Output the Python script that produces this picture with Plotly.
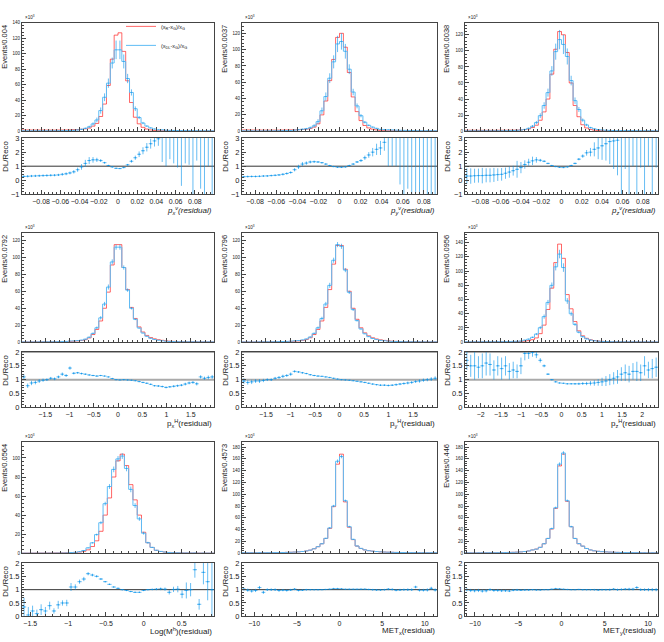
import plotly.graph_objects as go

W, H = 664, 642
RED = "rgba(255,0,0,0.6)"
BLUE_LINE = "rgb(95,188,245)"
BLUE = "rgba(0,145,235,0.6)"
FONT = "Liberation Sans, Arial, sans-serif"

# ---------------- data (main panels in units of 10^3 events) ----------------
# panel 1 : p_x^nu
red1 = [1.6,1.6,1.5,1.5,1.5,1.5,1.4,1.4,1.4,1.5,
        1.5,1.6,1.7,1.9,2.1,2.5,3.1,4.0,6.5,10,
        19,35,59,93,124,127,103,65,37,18,
        9.5,5.0,2.8,1.6,1.0,0.6,0.45,0.35,0.3,0.25,
        0.2,0.2,0.18,0.16,0.15,0.14,0.13,0.12,0.12,0.11]
blue1 = [0.43,0.45,0.45,0.47,0.48,0.5,0.48,0.49,0.5,0.57,
         0.63,0.74,0.88,1.14,1.6,2.4,3.7,5.6,9.4,14.5,
         26.6,43.8,62,88,105,105,90,68,50,29,
         17.6,10.5,6.6,4.2,2.8,1.8,1.7,1.3,1.1,1.0,
         0.8,0.75,0.7,0.6,0.6,0.55,0.5,0.45,0.45,0.4]
berr1 = [0.2,0.2,0.2,0.2,0.2,0.2,0.2,0.2,0.2,0.2,
         0.3,0.3,0.4,0.5,0.6,0.8,1.0,1.5,2.0,3.0,
         4.0,5.0,6.0,7.0,12,12,9.0,6.0,4.0,3.0,
         2.0,1.5,1.0,0.8,0.6,0.5,0.4,0.4,0.3,0.3,
         0.3,0.3,0.3,0.3,0.2,0.2,0.2,0.2,0.2,0.2]
ratio1 = [0.27,0.28,0.30,0.31,0.32,0.33,0.34,0.35,0.36,0.38,
          0.42,0.46,0.52,0.60,0.75,0.95,1.2,1.4,1.45,1.45,
          1.4,1.25,1.05,0.95,0.85,0.83,0.9,1.1,1.35,1.6,
          1.85,2.1,2.35,2.6,2.8,2.95,3.8,3.8,3.8,3.8,
          3.8,3.8,3.8,3.8,3.8,3.8,3.8,3.8,3.8,3.8]
rerr1 = [0.08,0.08,0.08,0.08,0.08,0.08,0.08,0.08,0.08,0.08,
         0.1,0.1,0.1,0.12,0.15,0.2,0.25,0.25,0.2,0.15,
         0.1,0.06,0.04,0.03,0.03,0.03,0.04,0.06,0.1,0.15,
         0.2,0.25,0.3,0.35,0.4,0.5,2.5,2.8,2.3,2.6,
         2.9,4.2,2.6,2.7,5.0,2.4,4.4,5.0,2.8,5.0]

# panel 2 : p_y^nu
red2 = [1.5,1.5,1.4,1.4,1.4,1.3,1.3,1.3,1.3,1.3,
        1.4,1.5,1.6,1.7,1.9,2.1,2.5,3.2,5.0,9.0,
        20,37,62,88,115,120,103,72,42,24,
        13,7.0,4.0,2.5,1.6,1.0,0.7,0.5,0.4,0.35,
        0.3,0.28,0.25,0.23,0.2,0.2,0.18,0.17,0.16,0.15]
blue2 = [0.38,0.39,0.38,0.38,0.39,0.39,0.4,0.43,0.46,0.49,
         0.59,0.72,0.88,1.3,1.8,2.4,3.0,4.2,6.6,11.7,
         25,42.5,65,85,107,110,98,76,48,31,
         19,11,7.2,5.0,3.5,2.3,1.9,1.7,1.5,1.3,
         1.1,1.0,0.9,0.8,0.75,0.7,0.65,0.6,0.55,0.5]
berr2 = [0.2,0.2,0.2,0.2,0.2,0.2,0.2,0.2,0.2,0.2,
         0.3,0.3,0.4,0.5,0.6,0.8,1.0,1.5,2.0,3.0,
         4.0,5.0,6.0,8.0,10,10,9.0,6.0,4.0,3.0,
         2.0,1.5,1.0,0.8,0.6,0.5,0.4,0.4,0.3,0.3,
         0.3,0.3,0.3,0.3,0.2,0.2,0.2,0.2,0.2,0.2]
ratio2 = [0.25,0.26,0.27,0.27,0.28,0.30,0.31,0.33,0.35,0.38,
          0.42,0.48,0.55,0.75,0.95,1.15,1.22,1.30,1.32,1.30,
          1.25,1.15,1.05,0.97,0.93,0.92,0.95,1.05,1.15,1.3,
          1.4,1.6,1.8,2.0,2.2,2.3,2.7,3.8,3.8,3.8,
          3.8,3.8,3.8,3.8,3.8,3.8,3.8,3.8,3.8,3.8]
rerr2 = [0.06,0.06,0.06,0.06,0.06,0.06,0.06,0.06,0.06,0.06,
         0.08,0.08,0.08,0.12,0.15,0.15,0.12,0.1,0.08,0.06,
         0.05,0.04,0.03,0.03,0.03,0.03,0.03,0.04,0.05,0.07,
         0.1,0.15,0.2,0.3,0.4,0.5,0.6,2.8,2.8,2.8,
         4.1,5.0,4.4,5.0,4.7,5.0,5.0,5.0,5.0,5.0]

# panel 3 : p_z^nu
red3 = [1.2,1.2,1.2,1.1,1.1,1.1,1.1,1.1,1.2,1.2,
        1.2,1.3,1.3,1.4,1.6,2.0,2.8,4.5,7.4,13.6,
        24,40,71,102,124,120,98,60,32,18,
        8.0,4.0,2.2,1.3,0.9,0.6,0.45,0.35,0.3,0.25,
        0.22,0.2,0.18,0.17,0.16,0.15,0.14,0.13,0.12,0.12]
blue3 = [0.36,0.36,0.38,0.36,0.36,0.39,0.39,0.42,0.48,0.5,
         0.6,0.75,0.88,1.1,1.45,2.2,3.6,6.2,10.7,19.3,
         32,48,75,99,114,108,93,63,38,27,
         13.8,7.8,4.4,2.9,2.1,1.5,1.2,1.0,0.85,0.7,
         0.8,0.75,0.7,0.65,0.6,0.55,0.5,0.5,0.45,0.45]
berr3 = [0.2,0.2,0.2,0.2,0.2,0.2,0.2,0.2,0.2,0.2,
         0.3,0.3,0.4,0.5,0.6,0.8,1.0,1.5,2.0,3.0,
         4.0,5.0,6.0,10,12,12,10,6.0,4.0,3.0,
         2.0,1.5,1.0,0.8,0.6,0.5,0.4,0.4,0.3,0.3,
         0.3,0.3,0.3,0.3,0.2,0.2,0.2,0.2,0.2,0.2]
ratio3 = [0.30,0.30,0.32,0.33,0.33,0.35,0.35,0.38,0.40,0.42,
          0.5,0.58,0.68,0.78,0.9,1.12,1.28,1.38,1.45,1.42,
          1.35,1.2,1.05,0.97,0.92,0.9,0.95,1.05,1.2,1.5,
          1.72,1.95,2.0,2.2,2.3,2.45,2.6,2.75,2.8,2.85,
          3.8,3.8,3.8,3.8,3.8,3.8,3.8,3.8,3.8,3.8]
rerr3 = [0.55,0.55,0.5,0.5,0.55,0.5,0.5,0.5,0.45,0.45,
         0.4,0.4,0.35,0.6,0.4,0.3,0.25,0.3,0.2,0.1,
         0.06,0.04,0.03,0.03,0.02,0.02,0.03,0.04,0.05,0.08,
         0.12,0.2,0.3,0.5,0.8,1.0,1.2,1.6,2.0,2.5,
         4.8,3.0,4.8,2.8,4.8,2.9,4.8,2.8,4.8,2.9]

# panel 4 : p_x^H
red4 = [0.3,0.3,0.35,0.35,0.4,0.4,0.45,0.5,0.55,0.6,
        0.7,0.8,1.0,1.2,1.5,2.0,3.0,5.0,9.0,15,
        25,40,59,91,115,115,88,62,41,28,
        18,12,8.0,5.5,4.0,3.0,2.2,1.6,1.2,1.0,
        0.8,0.7,0.6,0.55,0.5,0.45,0.4,0.35,0.35,0.3]
blue4 = [0.33,0.23,0.31,0.32,0.38,0.39,0.45,0.53,0.57,0.66,
         0.84,0.92,1.42,1.48,1.88,2.44,3.6,5.85,10.4,17,
         28.7,45,65,94.6,112,112,88,61.4,40,27,
         16.7,10.8,7.0,4.6,3.1,2.3,1.65,1.15,0.9,0.76,
         0.62,0.56,0.5,0.48,0.45,0.38,0.44,0.37,0.38,0.33]
berr4 = [0.1,0.1,0.1,0.1,0.1,0.1,0.1,0.1,0.1,0.1,
         0.1,0.1,0.1,0.1,0.2,0.3,0.5,0.8,1.0,1.5,
         2.0,2.5,3.0,3.0,3.0,3.0,2.5,2.0,1.5,1.0,
         0.8,0.5,0.4,0.3,0.2,0.2,0.1,0.1,0.1,0.1,
         0.1,0.1,0.1,0.1,0.1,0.1,0.1,0.1,0.1,0.1]
ratio4 = [1.1,0.78,0.88,0.9,0.95,0.98,1.0,1.05,1.03,1.1,
          1.2,1.15,1.42,1.23,1.25,1.22,1.2,1.17,1.15,1.13,
          1.15,1.13,1.1,1.04,1.0,0.99,1.0,0.99,0.98,0.96,
          0.93,0.9,0.87,0.83,0.78,0.77,0.75,0.72,0.74,0.76,
          0.78,0.8,0.84,0.88,0.9,0.85,1.1,1.05,1.08,1.1]
rerr4 = [0.1,0.08,0.08,0.07,0.07,0.06,0.05,0.05,0.05,0.05,
         0.06,0.05,0.06,0.04,0.03,0.03,0.02,0.02,0.02,0.02,
         0.01,0.01,0.01,0.01,0.01,0.01,0.01,0.01,0.01,0.01,
         0.02,0.02,0.02,0.02,0.02,0.03,0.03,0.03,0.03,0.04,
         0.04,0.04,0.05,0.05,0.05,0.06,0.06,0.06,0.07,0.07]

# panel 5 : p_y^H
red5 = [0.3,0.3,0.3,0.35,0.4,0.4,0.45,0.5,0.55,0.6,
        0.7,0.8,1.0,1.2,1.5,2.1,3.1,5.2,9.0,15,
        25,41,62,92,114,114,86,60,40,27,
        17,11,7.5,5.2,3.8,2.8,2.1,1.6,1.2,1.0,
        0.8,0.7,0.6,0.55,0.5,0.45,0.4,0.35,0.35,0.3]
blue5 = [0.29,0.27,0.28,0.33,0.38,0.39,0.45,0.5,0.58,0.65,
         0.78,0.92,1.2,1.56,1.92,2.6,3.8,6.1,10.4,17,
         28,45,67,96.6,115,113,85,58.8,38.4,25.4,
         15.6,9.9,6.5,4.4,3.1,2.2,1.7,1.26,0.96,0.82,
         0.67,0.6,0.53,0.5,0.47,0.43,0.39,0.35,0.36,0.32]
berr5 = [0.1,0.1,0.1,0.1,0.1,0.1,0.1,0.1,0.1,0.1,
         0.1,0.1,0.1,0.1,0.2,0.3,0.5,0.8,1.0,1.5,
         2.0,2.5,3.0,3.0,3.0,3.0,2.5,2.0,1.5,1.0,
         0.8,0.5,0.4,0.3,0.2,0.2,0.1,0.1,0.1,0.1,
         0.1,0.1,0.1,0.1,0.1,0.1,0.1,0.1,0.1,0.1]
ratio5 = [0.95,0.9,0.92,0.95,0.95,0.97,1.0,1.0,1.05,1.08,
          1.12,1.15,1.2,1.3,1.28,1.25,1.22,1.18,1.15,1.13,
          1.12,1.1,1.08,1.05,1.02,1.0,0.99,0.98,0.96,0.94,
          0.92,0.9,0.87,0.84,0.82,0.8,0.8,0.79,0.8,0.82,
          0.84,0.86,0.88,0.9,0.93,0.95,0.98,1.0,1.02,1.05]
rerr5 = [0.1,0.08,0.08,0.07,0.07,0.06,0.05,0.05,0.05,0.05,
         0.06,0.05,0.06,0.04,0.03,0.03,0.02,0.02,0.02,0.02,
         0.01,0.01,0.01,0.01,0.01,0.01,0.01,0.01,0.01,0.01,
         0.02,0.02,0.02,0.02,0.02,0.03,0.03,0.03,0.03,0.04,
         0.04,0.04,0.05,0.05,0.05,0.06,0.06,0.06,0.07,0.07]

# panel 6 : p_z^H
red6 = [0.3,0.3,0.3,0.3,0.35,0.35,0.4,0.4,0.45,0.5,
        0.6,0.7,0.85,1.0,1.1,1.5,2.2,3.5,6.0,12,
        24,46,76,112,138,118,67,47,29,16,
        9.0,5.5,3.5,2.3,1.6,1.2,0.9,0.75,0.6,0.5,
        0.45,0.4,0.35,0.33,0.3,0.28,0.26,0.25,0.24,0.22]
blue6 = [0.51,0.45,0.45,0.44,0.53,0.56,0.62,0.54,0.68,0.7,
         0.9,0.91,1.15,1.3,1.65,2.9,4.3,6.9,11.4,20.4,
         36,56,80,106,124,105,58,40,25,14,
         7.7,4.7,3.0,2.0,1.45,1.1,0.86,0.75,0.63,0.55,
         0.54,0.5,0.42,0.43,0.39,0.35,0.39,0.34,0.34,0.32]
berr6 = [0.2,0.2,0.2,0.2,0.2,0.2,0.2,0.2,0.2,0.2,
         0.2,0.2,0.3,0.3,0.4,0.5,0.8,1.0,1.5,2.0,
         3.0,3.5,4.0,5.0,6.0,6.0,4.0,3.0,2.0,1.5,
         1.0,0.8,0.6,0.5,0.4,0.3,0.2,0.2,0.2,0.2,
         0.2,0.2,0.2,0.2,0.2,0.2,0.2,0.2,0.2,0.2]
ratio6 = [1.7,1.5,1.5,1.45,1.5,1.6,1.55,1.35,1.5,1.4,
          1.5,1.3,1.35,1.3,1.5,1.95,1.95,1.98,1.9,1.7,
          1.5,1.2,1.0,0.92,0.88,0.87,0.85,0.85,0.85,0.85,
          0.86,0.86,0.87,0.88,0.9,0.92,0.95,1.0,1.05,1.1,
          1.2,1.25,1.2,1.3,1.3,1.25,1.5,1.35,1.4,1.45]
rerr6 = [0.35,0.4,0.5,0.4,0.45,0.45,0.4,0.35,0.35,0.4,
         0.35,0.3,0.3,0.25,0.3,0.25,0.2,0.15,0.12,0.08,
         0.05,0.03,0.02,0.02,0.01,0.01,0.02,0.02,0.03,0.04,
         0.05,0.06,0.08,0.1,0.12,0.15,0.18,0.2,0.22,0.25,
         0.25,0.3,0.3,0.3,0.35,0.3,0.35,0.3,0.35,0.35]

# panel 7 : Log(M^h)  (45 bins)
red7 = [0.1,0.1,0.1,0.12,0.15,0.18,0.2,0.25,0.3,0.35,
        0.45,0.6,0.8,1.2,2.0,3.5,7.0,13,23,40,
        58,80,97,104,92,72,56,40,22,11,
        6.0,3.0,1.8,1.2,0.8,0.55,0.4,0.3,0.25,0.2,
        0.15,0.12,0.1,0.08,0.06]
blue7 = [0.035,0.005,0.02,0.012,0.04,0.04,0.08,0.05,0.13,0.18,
         0.23,0.66,0.88,1.56,2.8,5.6,10.9,19.5,32,52,
         70,88,99,102,89,67,50,36,21,11,
         6.1,3.1,1.85,1.2,0.7,0.55,0.4,0.25,0.24,0.2,
         0.26,0.05,0.16,0.1,0.06]
berr7 = [0.05,0.05,0.05,0.05,0.05,0.05,0.05,0.05,0.05,0.05,
         0.1,0.1,0.2,0.3,0.4,0.6,0.8,1.0,1.5,2.0,
         2.5,3.0,3.0,3.0,3.0,3.0,2.5,2.0,1.5,1.0,
         0.6,0.4,0.3,0.2,0.1,0.1,0.1,0.05,0.05,0.05,
         0.05,0.05,0.05,0.05,0.05]
ratio7 = [0.35,0.05,0.2,0.1,0.25,0.2,0.4,0.2,0.43,0.5,
          0.5,1.1,1.1,1.3,1.4,1.6,1.55,1.5,1.4,1.3,
          1.2,1.1,1.05,1.0,0.97,0.93,0.9,0.9,0.97,1.0,
          1.01,1.02,1.03,1.02,0.9,1.01,1.02,0.83,0.97,1.0,
          1.75,0.45,1.65,1.3,1.0]
rerr7 = [0.35,0.3,0.2,0.15,0.2,0.15,0.15,0.1,0.15,0.1,
         0.12,0.15,0.1,0.08,0.08,0.06,0.05,0.04,0.03,0.02,
         0.02,0.02,0.02,0.02,0.02,0.02,0.02,0.02,0.02,0.02,
         0.03,0.04,0.05,0.06,0.08,0.1,0.12,0.15,0.3,0.25,
         0.3,0.2,0.45,0.7,1.1]

# panel 8 : MET_x
red8 = [0.8,0.8,0.8,0.8,0.9,0.9,0.9,1.0,1.0,1.1,
        1.2,1.4,1.6,1.9,2.3,2.9,3.8,5.2,7.5,11,
        16,25,42,79,151,168,87,44,23,12,
        8.0,5.5,4.2,3.5,2.8,2.3,2.0,1.7,1.5,1.3,
        1.2,1.1,1.0,1.0,0.9,0.9,0.9,0.8,0.8,0.8]
blue8 = [0.82,0.78,0.76,0.78,0.97,0.81,0.9,1.0,1.0,1.07,
         1.18,1.36,1.58,1.94,2.23,2.84,3.8,5.2,7.5,11,
         16,25.2,42.8,80,156,164,89,45,23.5,12.2,
         8.2,5.6,4.2,3.5,2.8,2.3,2.0,1.73,1.52,1.27,
         1.19,1.1,1.0,1.0,0.99,0.88,0.88,0.79,0.84,0.79]
berr8 = [0.1,0.1,0.1,0.1,0.1,0.1,0.1,0.1,0.1,0.1,
         0.1,0.1,0.1,0.1,0.1,0.2,0.2,0.3,0.4,0.5,
         0.8,1.0,1.5,2.0,3.0,3.0,2.0,1.5,1.0,0.8,
         0.5,0.4,0.3,0.2,0.2,0.1,0.1,0.1,0.1,0.1,
         0.1,0.1,0.1,0.1,0.1,0.1,0.1,0.1,0.1,0.1]
ratio8 = [1.02,0.98,0.95,0.97,1.08,0.9,1.0,1.0,1.0,0.97,
          0.98,0.97,0.99,1.02,0.97,0.98,1.0,1.0,1.0,1.0,
          1.0,1.01,1.02,1.04,1.04,1.03,1.02,1.02,1.02,1.02,
          1.02,1.02,1.01,1.0,0.99,0.99,1.0,1.02,1.01,0.98,
          0.99,1.0,1.0,1.0,1.1,0.98,0.98,0.99,1.05,0.99]
rerr8 = [0.06,0.06,0.06,0.06,0.06,0.06,0.05,0.05,0.05,0.05,
         0.04,0.04,0.04,0.04,0.03,0.03,0.03,0.02,0.02,0.02,
         0.01,0.01,0.01,0.005,0.005,0.005,0.005,0.01,0.01,0.01,
         0.02,0.02,0.02,0.03,0.03,0.03,0.03,0.04,0.04,0.04,
         0.04,0.04,0.05,0.05,0.05,0.05,0.05,0.06,0.06,0.06]

# panel 9 : MET_y
red9 = [0.6,0.6,0.6,0.7,0.7,0.7,0.8,0.8,0.9,1.0,
        1.1,1.3,1.5,1.8,2.2,2.8,3.8,5.5,7.0,10,
        16,25,41,76,148,168,88,45,25,16,
        12,8.0,5.5,4.0,3.2,2.6,2.2,1.9,1.6,1.4,
        1.2,1.1,1.0,0.9,0.85,0.8,0.75,0.7,0.7,0.65]
blue9 = [0.6,0.58,0.58,0.68,0.67,0.67,0.8,0.78,0.87,0.96,
         1.06,1.24,1.47,1.78,2.16,2.77,3.76,5.5,6.9,9.9,
         16,25,41.8,77,151,170,89,45,25,16.2,
         12,8.0,5.5,4.0,3.2,2.6,2.2,1.9,1.63,1.4,
         1.21,1.12,1.02,0.92,0.92,0.8,0.75,0.7,0.7,0.65]
berr9 = [0.1,0.1,0.1,0.1,0.1,0.1,0.1,0.1,0.1,0.1,
         0.1,0.1,0.1,0.1,0.1,0.2,0.2,0.3,0.4,0.5,
         0.8,1.0,1.5,2.0,3.0,3.0,2.0,1.5,1.0,0.8,
         0.5,0.4,0.3,0.2,0.2,0.1,0.1,0.1,0.1,0.1,
         0.1,0.1,0.1,0.1,0.1,0.1,0.1,0.1,0.1,0.1]
ratio9 = [1.0,0.97,0.96,0.97,0.95,0.96,1.0,0.97,0.97,0.96,
          0.96,0.95,0.98,0.99,0.98,0.99,0.99,1.0,0.99,0.99,
          1.0,1.0,1.02,1.04,1.03,1.02,1.01,1.0,1.0,1.01,
          1.0,1.0,1.0,1.0,0.99,1.0,1.0,1.0,1.02,1.0,
          1.01,1.02,1.02,1.02,1.08,1.0,1.0,1.0,1.0,1.0]
rerr9 = [0.06,0.06,0.06,0.06,0.06,0.06,0.05,0.05,0.05,0.05,
         0.04,0.04,0.04,0.04,0.03,0.03,0.03,0.02,0.02,0.02,
         0.01,0.01,0.01,0.005,0.005,0.005,0.005,0.01,0.01,0.01,
         0.02,0.02,0.02,0.03,0.03,0.03,0.03,0.04,0.04,0.04,
         0.04,0.04,0.05,0.05,0.05,0.05,0.05,0.06,0.06,0.06]

# binning (low edge, bin width) and axis labels
bin_lo = [-0.1, -0.0925, -0.095, -1.98, -1.99, -2.39, -1.61, -11.4325, -11.15]
bin_w = [0.004, 0.0037, 0.0038, 0.0792, 0.0796, 0.0956, 0.0564, 0.4573, 0.446]
y_titles = ["Events/0.004", "Events/0.0037", "Events/0.0038",
            "Events/0.0792", "Events/0.0796", "Events/0.0956",
            "Events/0.0564", "Events/0.4573", "Events/0.446"]
x_titles = ["<i>p<sub>x</sub><sup>ν</sup>(residual)</i>",
            "<i>p<sub>y</sub><sup>ν</sup>(residual)</i>",
            "<i>p<sub>z</sub><sup>ν</sup>(residual)</i>",
            "p<sub>x</sub><sup>H</sup>(residual)",
            "p<sub>y</sub><sup>H</sup>(residual)",
            "p<sub>z</sub><sup>H</sup>(residual)",
            "Log(M<sup>h</sup>)(residual)",
            "MET<sub>x</sub>(residual)",
            "MET<sub>y</sub>(residual)"]
legend_names = ["(x<sub>R</sub>-x<sub>G</sub>)/x<sub>G</sub>",
                "(x<sub>DL</sub>-x<sub>G</sub>)/x<sub>G</sub>"]
y_max = [140, 133, 135, 129, 129, 154, 117, 189, 189]
x_dtick = [0.02, 0.02, 0.02, 0.5, 0.5, 0.5, 0.5, 5, 5]
ratio_range = [[-1, 3]] * 3 + [[0, 2]] * 6
ratio_dtick = [1] * 3 + [0.5] * 6

reds = [red1, red2, red3, red4, red5, red6, red7, red8, red9]
blues = [blue1, blue2, blue3, blue4, blue5, blue6, blue7, blue8, blue9]
berrs = [berr1, berr2, berr3, berr4, berr5, berr6, berr7, berr8, berr9]
ratios = [ratio1, ratio2, ratio3, ratio4, ratio5, ratio6, ratio7, ratio8, ratio9]
rerrs = [rerr1, rerr2, rerr3, rerr4, rerr5, rerr6, rerr7, rerr8, rerr9]

# ---------------- layout geometry (page pixels) ----------------
cols_px = [(22, 214), (242, 437), (465, 658)]
rows_px = [((19, 129), (136, 193)), ((232, 343), (353, 409)), ((444, 557), (567, 621))]
ytitle_x = [5, 225, 447]
xtitle_y = [209, 425, 636]


def sfx(n):
    return "" if n == 1 else str(n)


def px_x(px):
    return px / W


def px_y(py):
    return 1 - py / H


LINEC = "#444"
base = dict(showgrid=False, zeroline=False, showline=True, linecolor=LINEC,
            linewidth=1, mirror=True, ticks="inside", tickcolor=LINEC,
            tickwidth=1)

fig = go.Figure()
layout = {}
annotations = []
shapes = []

for p in range(9):
    r, c = divmod(p, 3)
    ia, ib = 2 * p + 1, 2 * p + 2
    lo, w = bin_lo[p], bin_w[p]
    red, blue = reds[p], blues[p]
    n = len(red)
    hi = lo + w * n
    edges = [lo + w * k for k in range(n + 1)]
    cent = [lo + w * (k + 0.5) for k in range(n)]
    xa, ya = "x" + sfx(ia), "y" + sfx(ia)
    xb, yb = "x" + sfx(ib), "y" + sfx(ib)

    fig.add_trace(go.Scatter(x=edges, y=red + [red[-1]], mode="lines",
                             line=dict(color=RED, width=1, shape="hv"),
                             xaxis=xa, yaxis=ya, name=legend_names[0],
                             legendgroup="reco", showlegend=(p == 0)))
    fig.add_trace(go.Scatter(x=edges, y=blue + [blue[-1]], mode="lines",
                             line=dict(color=BLUE_LINE, width=1, shape="hv"),
                             xaxis=xa, yaxis=ya, name=legend_names[1],
                             legendgroup="dl", showlegend=(p == 0)))
    fig.add_trace(go.Scatter(x=cent, y=blue, mode="markers",
                             marker=dict(size=1, color="rgba(0,0,0,0)"),
                             error_y=dict(type="data", array=berrs[p], color=BLUE,
                                          thickness=1, width=0),
                             xaxis=xa, yaxis=ya, showlegend=False))
    fig.add_trace(go.Scatter(x=cent, y=ratios[p], mode="markers",
                             marker=dict(size=1.5, color=BLUE),
                             error_y=dict(type="data", array=rerrs[p], color=BLUE,
                                          thickness=1, width=0),
                             error_x=dict(type="constant", value=w / 2, color=BLUE,
                                          thickness=1, width=0),
                             xaxis=xb, yaxis=yb, showlegend=False))

    x0, x1 = cols_px[c]
    (mt, mb), (rt, rb) = rows_px[r]
    xdom = [px_x(x0), px_x(x1)]
    eps = w * 0.02
    xr = [lo + eps, hi - eps]
    xminor = dict(ticks="inside", ticklen=2, tickcolor=LINEC, dtick=x_dtick[p] / 5, tick0=0)

    layout["xaxis" + sfx(ia)] = dict(base, domain=xdom, anchor=ya, range=xr,
                                     showticklabels=False, ticklen=4,
                                     dtick=x_dtick[p], tick0=0, minor=xminor)
    layout["yaxis" + sfx(ia)] = dict(base, domain=[px_y(mb), px_y(mt)], anchor=xa,
                                     range=[0, y_max[p]], dtick=20, tick0=0,
                                     ticklen=4,
                                     tickfont=dict(size=4.5, family=FONT, color="#222"),
                                     minor=dict(ticks="inside", ticklen=2,
                                                tickcolor=LINEC, dtick=4, tick0=0))
    layout["xaxis" + sfx(ib)] = dict(base, domain=xdom, anchor=yb, range=xr,
                                     dtick=x_dtick[p], tick0=0, ticklen=4,
                                     tickangle=0,
                                     tickfont=dict(size=7, family=FONT, color="#222"),
                                     minor=xminor)
    layout["yaxis" + sfx(ib)] = dict(base, domain=[px_y(rb), px_y(rt)], anchor=xb,
                                     range=ratio_range[p], dtick=ratio_dtick[p],
                                     tick0=0, ticklen=4,
                                     tickfont=dict(size=7.5, family=FONT, color="#222"),
                                     minor=dict(ticks="inside", ticklen=2, tickcolor=LINEC,
                                                dtick=ratio_dtick[p] / 5, tick0=0))

    # reference lines in ratio panel
    if r == 1:
        for yv in (1, 2):
            shapes.append(dict(type="line", xref=xb + " domain", x0=0, x1=1,
                               yref=yb, y0=yv, y1=yv, layer="below",
                               line=dict(color="#aaa", width=2)))
    else:
        shapes.append(dict(type="line", xref=xb + " domain", x0=0, x1=1,
                           yref=yb, y0=1, y1=1, layer="below",
                           line=dict(color="#333", width=1)))

    # titles
    annotations.append(dict(text=y_titles[p], x=px_x(ytitle_x[c]), y=px_y(mt),
                            xref="paper", yref="paper", xanchor="center",
                            yanchor="top", textangle=-90, showarrow=False,
                            font=dict(size=7.5, family=FONT, color="#222")))
    annotations.append(dict(text="DL/Reco", x=px_x(ytitle_x[c]), y=px_y(rt),
                            xref="paper", yref="paper", xanchor="center",
                            yanchor="top", textangle=-90, showarrow=False,
                            font=dict(size=8, family=FONT, color="#222")))
    annotations.append(dict(text="×10<sup>3</sup>", x=px_x(x0 + 1), y=px_y(mt - 0.5),
                            xref="paper", yref="paper", xanchor="left",
                            yanchor="bottom", showarrow=False,
                            font=dict(size=4.5, family=FONT, color="#222")))
    annotations.append(dict(text=x_titles[p], x=px_x(x1), y=px_y(xtitle_y[r]),
                            xref="paper", yref="paper", xanchor="right",
                            yanchor="middle", showarrow=False,
                            font=dict(size=8, family=FONT, color="#222")))

fig.update_layout(**layout)
fig.update_layout(
    width=W, height=H,
    margin=dict(l=0, r=0, t=0, b=0),
    paper_bgcolor="white", plot_bgcolor="white",
    font=dict(family=FONT, color="#222"),
    annotations=annotations, shapes=shapes,
    legend=dict(x=px_x(121), y=px_y(8), xanchor="left", yanchor="top",
                font=dict(size=5.5, family=FONT, color="#222"),
                bgcolor="rgba(0,0,0,0)", tracegroupgap=0, itemwidth=30),
)

# remove the default page margin so the figure sits at the window's top-left corner
fig.write_html("out.html", config={"displayModeBar": False},
               post_script="document.body.style.margin='0';")
